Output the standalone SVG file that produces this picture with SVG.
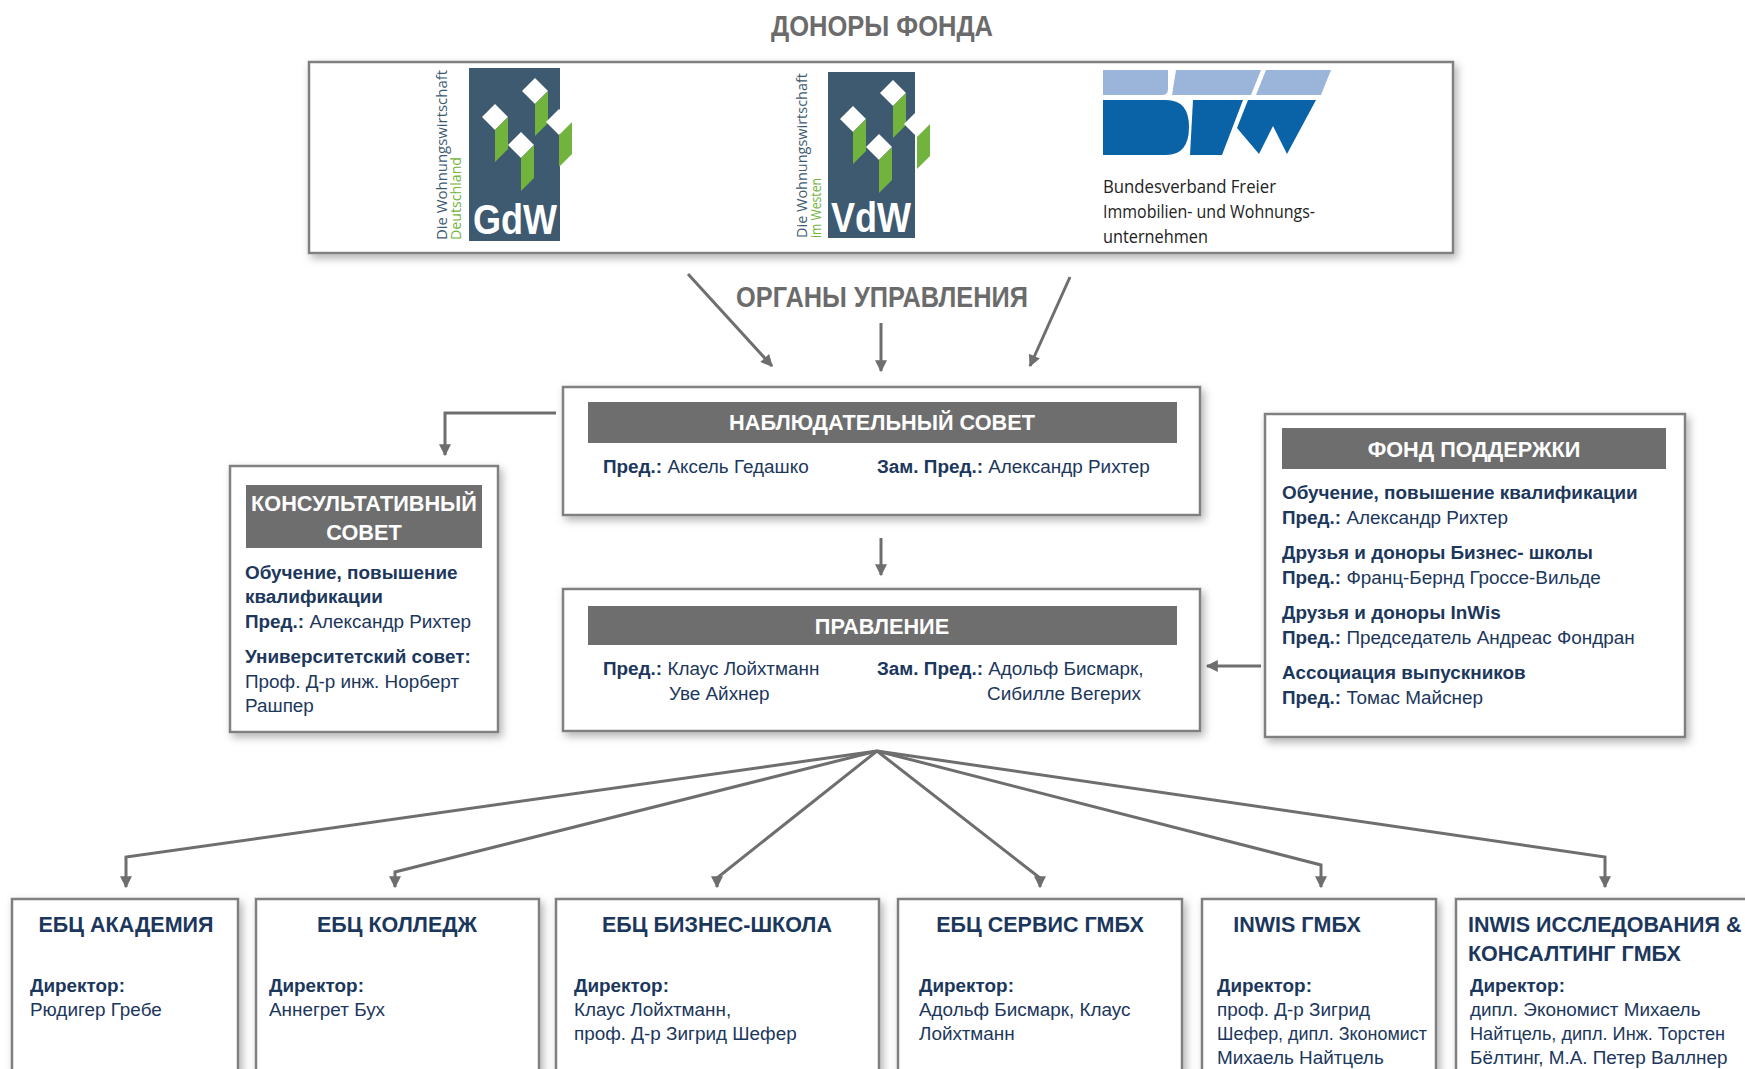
<svg xmlns="http://www.w3.org/2000/svg" xmlns:xlink="http://www.w3.org/1999/xlink" width="1745" height="1069" viewBox="0 0 1745 1069">
<defs>
<style>
text{font-family:"Liberation Sans",Arial,sans-serif}
.ttl{font-weight:bold;font-size:29px;fill:#6b6b6b;text-anchor:middle}
.hdr{font-weight:bold;font-size:21.7px;fill:#ffffff;text-anchor:middle}
.b{font-size:18.9px;fill:#1c375c}
.bb{font-weight:bold}
.sub{font-weight:bold;font-size:21.5px;fill:#1c375c}
.box{fill:#ffffff;stroke:#808080;stroke-width:2.5;filter:url(#sh)}
.bar{fill:#6e6e6e}
.con{fill:none;stroke:#6e6e6e;stroke-width:3;marker-end:url(#ah)}
.logo{fill:#3e5a70}
.wh{fill:#ffffff}
.gr{fill:#72b33e}
.vt{font-family:"Open Sans","Liberation Sans",sans-serif;font-size:14.5px}
.bfwt{font-family:"Open Sans","Liberation Sans",sans-serif;font-size:18px;fill:#222222}
</style>
<filter id="sh" x="-10%" y="-10%" width="125%" height="130%">
<feDropShadow dx="3" dy="4" stdDeviation="4" flood-color="#000000" flood-opacity="0.3"/>
</filter>
<marker id="ah" viewBox="0 0 10 10" refX="9" refY="5" markerWidth="13" markerHeight="12" markerUnits="userSpaceOnUse" orient="auto">
<path d="M0,0 L10,5 L0,10 Z" fill="#6e6e6e"/>
</marker>
<g id="cubes">
<path class="wh" d="M66,10 L79,23 L66,36 L53,23 Z"/>
<path class="gr" d="M66,36 L79,23 L79,55 L66,68 Z"/>
<path class="wh" d="M26,36 L39,49 L26,62 L13,49 Z"/>
<path class="gr" d="M26,62 L39,49 L39,81 L26,94 Z"/>
<path class="wh" d="M90,41 L103,54 L90,67 L77,54 Z"/>
<path class="gr" d="M90,67 L103,54 L103,86 L90,99 Z"/>
<path class="wh" d="M52,64 L65,77 L52,90 L39,77 Z"/>
<path class="gr" d="M52,90 L65,77 L65,110 L52,123 Z"/>
</g>
</defs>
<rect width="1745" height="1069" fill="#ffffff"/>

<g id="connectors">
<polyline class="con" points="688,274 772,366"/>
<polyline class="con" points="881,323 881,371"/>
<polyline class="con" points="1070,277 1030,366"/>
<polyline class="con" points="556,413 445,413 445,455"/>
<polyline class="con" points="881,538 881,575"/>
<polyline class="con" points="1261,666 1207,666"/>
<polyline class="con" points="877,751 126,857 126,887"/>
<polyline class="con" points="877,751 395,872 395,887"/>
<polyline class="con" points="877,751 717,878 717,887"/>
<polyline class="con" points="877,751 1040,878 1040,887"/>
<polyline class="con" points="877,751 1321,865 1321,887"/>
<polyline class="con" points="877,751 1605,857 1605,887"/>
</g>

<g id="donors">
<text class="ttl" x="882" y="36" textLength="222" lengthAdjust="spacingAndGlyphs">ДОНОРЫ ФОНДА</text>
<rect class="box" x="309" y="62" width="1144" height="191"/>
<g id="gdw">
<rect class="logo" x="469" y="68" width="91" height="173"/>
<use xlink:href="#cubes" href="#cubes" x="469" y="68"/>
<text x="515" y="234" font-weight="bold" font-size="42" fill="#ffffff" text-anchor="middle" textLength="84" lengthAdjust="spacingAndGlyphs">GdW</text>
<text class="vt" x="447" y="240" fill="#3e5a70" transform="rotate(-90 447 240)" textLength="170" lengthAdjust="spacingAndGlyphs">Die Wohnungswirtschaft</text>
<text class="vt" x="461" y="240" fill="#72b33e" transform="rotate(-90 461 240)" textLength="83" lengthAdjust="spacingAndGlyphs">Deutschland</text>
</g>
<g id="vdw">
<rect class="logo" x="828" y="72" width="87" height="166"/>
<use xlink:href="#cubes" href="#cubes" x="827" y="70"/>
<text x="871" y="232" font-weight="bold" font-size="42" fill="#ffffff" text-anchor="middle" textLength="80" lengthAdjust="spacingAndGlyphs">VdW</text>
<text class="vt" x="807" y="238" fill="#3e5a70" transform="rotate(-90 807 238)" textLength="165" lengthAdjust="spacingAndGlyphs">Die Wohnungswirtschaft</text>
<text class="vt" x="821" y="238" fill="#72b33e" transform="rotate(-90 821 238)" textLength="60" lengthAdjust="spacingAndGlyphs">im Westen</text>
</g>
<g id="bfw">
<path fill="#9ab5d9" d="M1103,70 H1168 V89 Q1168,95 1162,95 H1103 Z"/>
<path fill="#9ab5d9" d="M1176,70 H1261 L1251,95 H1172 Z"/>
<path fill="#9ab5d9" d="M1266,70 H1331 L1321,95 H1256 Z"/>
<path fill="#0a63a6" d="M1103,100 H1166 Q1189,100 1189,127 Q1189,155 1166,155 H1103 Z"/>
<path fill="#0a63a6" d="M1193,100 H1243 L1222,155 H1190 Z"/>
<path fill="#0a63a6" d="M1248,100 H1316 L1287,154 L1273,126 L1259,154 L1237,128 Z"/>
<text class="bfwt" x="1103" y="193" textLength="173" lengthAdjust="spacingAndGlyphs">Bundesverband Freier</text>
<text class="bfwt" x="1103" y="218" textLength="212" lengthAdjust="spacingAndGlyphs">Immobilien- und Wohnungs-</text>
<text class="bfwt" x="1103" y="243" textLength="105" lengthAdjust="spacingAndGlyphs">unternehmen</text>
</g>
</g>

<g id="governance-label">
<text class="ttl" x="882" y="307" font-size="28" textLength="292" lengthAdjust="spacingAndGlyphs">ОРГАНЫ УПРАВЛЕНИЯ</text>
</g>

<g id="supervisory-board">
<rect class="box" x="563" y="387" width="637" height="128"/>
<rect class="bar" x="588" y="402" width="589" height="41"/>
<text class="hdr" x="882" y="430">НАБЛЮДАТЕЛЬНЫЙ СОВЕТ</text>
<text class="b" x="603" y="473"><tspan class="bb">Пред.:</tspan> Аксель Гедашко</text>
<text class="b" x="877" y="473"><tspan class="bb">Зам. Пред.:</tspan> Александр Рихтер</text>
</g>

<g id="advisory-board">
<rect class="box" x="230" y="466" width="268" height="266"/>
<rect class="bar" x="246" y="485" width="236" height="63"/>
<text class="hdr" x="364" y="511" font-size="22">КОНСУЛЬТАТИВНЫЙ</text>
<text class="hdr" x="364" y="540" font-size="22">СОВЕТ</text>
<text class="b bb" x="245" y="579">Обучение, повышение</text>
<text class="b bb" x="245" y="603">квалификации</text>
<text class="b" x="245" y="628"><tspan class="bb">Пред.:</tspan> Александр Рихтер</text>
<text class="b bb" x="245" y="663">Университетский совет:</text>
<text class="b" x="245" y="688">Проф. Д-р инж. Норберт</text>
<text class="b" x="245" y="712">Рашпер</text>
</g>

<g id="executive-board">
<rect class="box" x="563" y="589" width="637" height="142"/>
<rect class="bar" x="588" y="606" width="589" height="39"/>
<text class="hdr" x="882" y="634">ПРАВЛЕНИЕ</text>
<text class="b" x="603" y="675"><tspan class="bb">Пред.:</tspan> Клаус Лойхтманн</text>
<text class="b" x="669" y="700">Уве Айхнер</text>
<text class="b" x="877" y="675"><tspan class="bb">Зам. Пред.:</tspan> Адольф Бисмарк,</text>
<text class="b" x="987" y="700">Сибилле Вегерих</text>
</g>

<g id="support-fund">
<rect class="box" x="1265" y="414" width="420" height="323"/>
<rect class="bar" x="1282" y="428" width="384" height="41"/>
<text class="hdr" x="1474" y="457">ФОНД ПОДДЕРЖКИ</text>
<text class="b bb" x="1282" y="499">Обучение, повышение квалификации</text>
<text class="b" x="1282" y="524"><tspan class="bb">Пред.:</tspan> Александр Рихтер</text>
<text class="b bb" x="1282" y="559">Друзья и доноры Бизнес- школы</text>
<text class="b" x="1282" y="584"><tspan class="bb">Пред.:</tspan> Франц-Бернд Гроссе-Вильде</text>
<text class="b bb" x="1282" y="619">Друзья и доноры InWis</text>
<text class="b" x="1282" y="644"><tspan class="bb">Пред.:</tspan> Председатель Андреас Фондран</text>
<text class="b bb" x="1282" y="679">Ассоциация выпускников</text>
<text class="b" x="1282" y="704"><tspan class="bb">Пред.:</tspan> Томас Майснер</text>
</g>

<g id="ebz-academy">
<rect class="box" x="12" y="899" width="226" height="200"/>
<text class="sub" x="126" y="932" text-anchor="middle">ЕБЦ АКАДЕМИЯ</text>
<text class="b bb" x="30" y="992">Директор:</text>
<text class="b" x="30" y="1016">Рюдигер Гребе</text>
</g>

<g id="ebz-college">
<rect class="box" x="256" y="899" width="283" height="200"/>
<text class="sub" x="397" y="932" text-anchor="middle">ЕБЦ КОЛЛЕДЖ</text>
<text class="b bb" x="269" y="992">Директор:</text>
<text class="b" x="269" y="1016">Аннегрет Бух</text>
</g>

<g id="ebz-business-school">
<rect class="box" x="556" y="899" width="323" height="200"/>
<text class="sub" x="717" y="932" text-anchor="middle">ЕБЦ БИЗНЕС-ШКОЛА</text>
<text class="b bb" x="574" y="992">Директор:</text>
<text class="b" x="574" y="1016">Клаус Лойхтманн,</text>
<text class="b" x="574" y="1040">проф. Д-р Зигрид Шефер</text>
</g>

<g id="ebz-service">
<rect class="box" x="898" y="899" width="284" height="200"/>
<text class="sub" x="1040" y="932" text-anchor="middle">ЕБЦ СЕРВИС ГМБХ</text>
<text class="b bb" x="919" y="992">Директор:</text>
<text class="b" x="919" y="1016">Адольф Бисмарк, Клаус</text>
<text class="b" x="919" y="1040">Лойхтманн</text>
</g>

<g id="inwis">
<rect class="box" x="1202" y="899" width="234" height="200"/>
<text class="sub" x="1297" y="932" text-anchor="middle">INWIS ГМБХ</text>
<text class="b bb" x="1217" y="992">Директор:</text>
<text class="b" x="1217" y="1016">проф. Д-р Зигрид</text>
<text class="b" x="1217" y="1040" textLength="210" lengthAdjust="spacingAndGlyphs">Шефер, дипл. Зкономист</text>
<text class="b" x="1217" y="1064">Михаель Найтцель</text>
</g>

<g id="inwis-research">
<rect class="box" x="1456" y="899" width="310" height="200"/>
<text class="sub" x="1468" y="932">INWIS ИССЛЕДОВАНИЯ &amp;</text>
<text class="sub" x="1468" y="961">КОНСАЛТИНГ ГМБХ</text>
<text class="b bb" x="1470" y="992">Директор:</text>
<text class="b" x="1470" y="1016">дипл. Экономист Михаель</text>
<text class="b" x="1470" y="1040" textLength="255" lengthAdjust="spacingAndGlyphs">Найтцель, дипл. Инж. Торстен</text>
<text class="b" x="1470" y="1064">Бёлтинг, М.А. Петер Валлнер</text>
</g>
</svg>
